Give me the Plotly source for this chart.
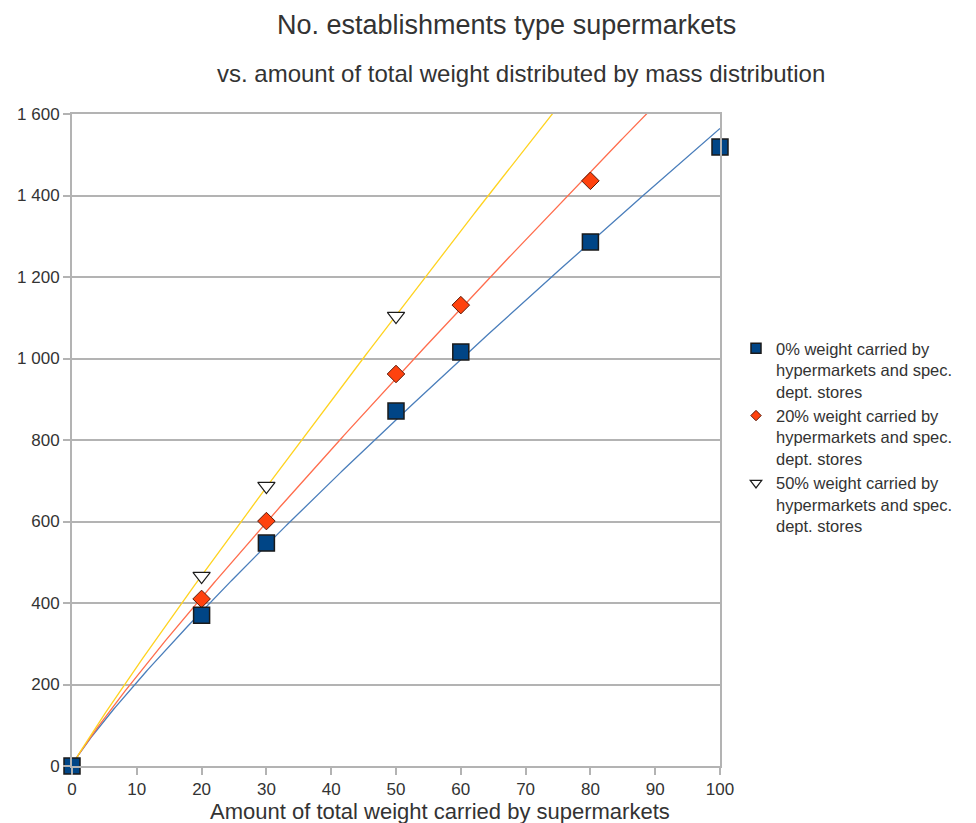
import numpy as np
import plotly.graph_objects as go

# ---- data ----
x_blue = [0, 20, 30, 50, 60, 80, 100]
y_blue = [0, 370, 547, 871, 1016, 1286, 1519]
x_red = [20, 30, 50, 60, 80]
y_red = [410, 601, 962, 1131, 1436]
x_yel = [20, 30, 50]
y_yel = [466, 687, 1104]

names = [
    "0% weight carried by<br>hypermarkets and spec.<br>dept. stores",
    "20% weight carried by<br>hypermarkets and spec.<br>dept. stores",
    "50% weight carried by<br>hypermarkets and spec.<br>dept. stores",
]
x_ticks = list(range(0, 101, 10))
y_ticks = list(range(0, 1601, 200))

# page body has an 8px margin -> shift everything by -8
OFF = 8
W, H = 976 - OFF, 823 - OFF
L, T = 72 - OFF, 114 - OFF
PR, PB = 720 - OFF, 766 - OFF
R, B = W - PR, H - PB
PW, PH = PR - L, PB - T

def px_x(px):  # reference pixel -> paper x
    return (px - OFF - L) / PW

def px_y(py):  # reference pixel -> paper y
    return (PB - (py - OFF)) / PH

def power_trend(xs, ys):
    xs = np.array(xs, float); ys = np.array(ys, float)
    m = (xs > 0) & (ys > 0)
    b, lna = np.polyfit(np.log(xs[m]), np.log(ys[m]), 1)
    xx = np.concatenate([[0.0], np.linspace(0.2, 100, 400)])
    return xx, np.exp(lna) * xx ** b

fig = go.Figure()

series = [
    (x_blue, y_blue, "#4a7ebb", dict(symbol="square", size=16, color="#004586", line=dict(color="#1a1a1a", width=1.5))),
    (x_red, y_red, "#ff6d4d", dict(symbol="diamond", size=13.5, color="#ff420e", line=dict(color="#5a1a0a", width=1))),
    (x_yel, y_yel, "#ffd320", dict(symbol="triangle-down", size=15, color="white", line=dict(color="#1a1a1a", width=1.2))),
]

# trend lines
for xs, ys, lc, mk in series:
    tx, ty = power_trend(xs, ys)
    fig.add_trace(go.Scatter(x=tx, y=ty, mode="lines", line=dict(color=lc, width=1.3),
                             showlegend=False, hoverinfo="skip"))
# markers
for xs, ys, lc, mk in reversed(series):
    fig.add_trace(go.Scatter(x=xs, y=ys, mode="markers", marker=mk, showlegend=False, cliponaxis=False))
# legend entries
for (xs, ys, lc, mk), nm in zip(series, names):
    small = dict(mk)
    small["size"] = 10 if mk["symbol"] != "diamond" else 8
    fig.add_trace(go.Scatter(x=[None], y=[None], mode="markers", marker=small, name=nm))

font = "Liberation Sans, Arial, sans-serif"
fig.update_layout(
    width=W, height=H,
    margin=dict(l=L, r=R, t=T, b=B, pad=0, autoexpand=False),
    paper_bgcolor="white", plot_bgcolor="white",
    separators=". ",
    font=dict(family=font, size=17, color="#333333"),
    legend=dict(x=px_x(736), y=px_y(331), xanchor="left", yanchor="top",
                valign="top",
                font=dict(size=16.5, color="#333333"), tracegroupgap=0, itemwidth=30,
                bgcolor="rgba(0,0,0,0)"),
    xaxis=dict(range=[0, 100], tickvals=x_ticks, showgrid=False, zeroline=False, automargin=False,
               showline=True, linecolor="#b3b3b3", linewidth=2, mirror=True,
               ticks="outside", ticklen=7, tickcolor="#b3b3b3", tickwidth=2,
               tickfont=dict(size=17, color="#333333")),
    yaxis=dict(range=[0, 1600], tickvals=y_ticks, separatethousands=True, automargin=False,
               showgrid=True, gridcolor="#b3b3b3", gridwidth=2, zeroline=False,
               showline=True, linecolor="#b3b3b3", linewidth=2, mirror=True,
               ticks="outside", ticklen=7, tickcolor="#b3b3b3", tickwidth=2,
               tickfont=dict(size=17, color="#333333")),
)

fig.add_annotation(text="No. establishments type supermarkets", xref="paper", yref="paper",
                   x=px_x(506), y=px_y(25), xanchor="center", yanchor="middle",
                   showarrow=False, font=dict(size=27, color="#333333"))
fig.add_annotation(text="vs. amount of total weight distributed by mass distribution", xref="paper", yref="paper",
                   x=px_x(521), y=px_y(73), xanchor="center", yanchor="middle",
                   showarrow=False, font=dict(size=24, color="#333333"))
fig.add_annotation(text="Amount of total weight carried by supermarkets", xref="paper", yref="paper",
                   x=px_x(440), y=px_y(811), xanchor="center", yanchor="middle",
                   showarrow=False, font=dict(size=22, color="#333333"))

fig.write_html("out.html")
